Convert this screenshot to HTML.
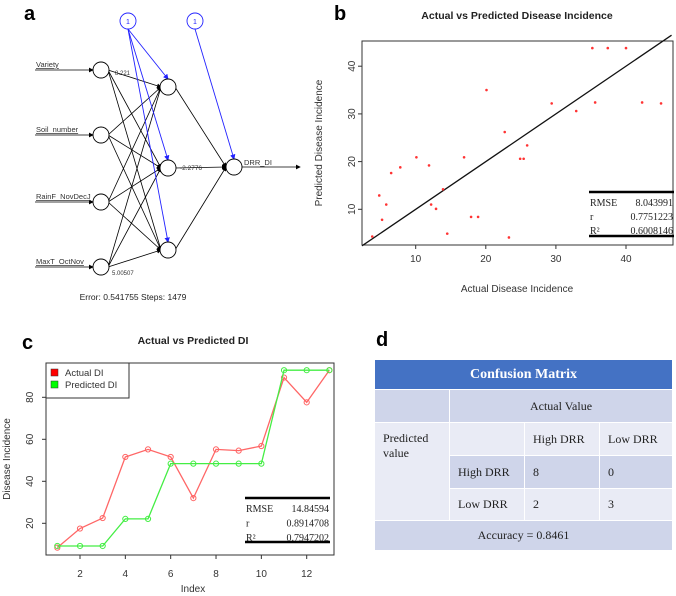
<!DOCTYPE html>
<html><head><meta charset="utf-8"><style>
body{margin:0;background:#fff;width:676px;height:596px;overflow:hidden;font-family:"Liberation Sans",sans-serif}
svg{position:absolute;left:0;top:0}
.cm{position:absolute;left:374px;top:359px;width:299px;border-collapse:collapse;font-family:"Liberation Serif",serif;font-size:12px;color:#222}
.cm td{padding:0 0 0 8px;border:1px solid #fff}
</style></head><body>
<svg width="676" height="596" viewBox="0 0 676 596">
<defs><marker id="ar" markerWidth="6" markerHeight="6" refX="5" refY="3" orient="auto"><path d="M0,0L6,3L0,6z" fill="#000"/></marker>
<marker id="ab" markerWidth="6" markerHeight="6" refX="5" refY="3" orient="auto"><path d="M0,0L6,3L0,6z" fill="#22f"/></marker></defs>
<g id="pa"></g>
<g id="pb"></g>
<g id="pc"></g>
<text x="376" y="346" font-size="20" font-weight="bold">d</text>
</svg>
<table class="cm">
<tr style="height:30px"><td colspan="4" style="background:#4472c4;color:#fff;font-weight:bold;font-size:14px;text-align:center;padding:0">Confusion Matrix</td></tr>
<tr style="background:#cfd5ea;height:33px"><td style="width:66px"></td><td colspan="3" style="text-align:center;padding:0">Actual Value</td></tr>
<tr style="height:33px"><td rowspan="3" style="background:#e9ebf5;vertical-align:top;padding-top:8px;line-height:15px">Predicted<br>value</td><td style="background:#e9ebf5;width:66px"></td><td style="background:#e9ebf5;width:66px">High DRR</td><td style="background:#e9ebf5">Low DRR</td></tr>
<tr style="background:#cfd5ea;height:33px"><td>High DRR</td><td>8</td><td>0</td></tr>
<tr style="background:#e9ebf5;height:32px"><td>Low DRR</td><td>2</td><td>3</td></tr>
<tr style="background:#cfd5ea;height:30px"><td colspan="4" style="text-align:center;padding:0">Accuracy = 0.8461</td></tr>
</table>
<script>
const NS="http://www.w3.org/2000/svg";
function mk(p,t,a,txt){const e=document.createElementNS(NS,t);for(const k in a)e.setAttribute(k,a[k]);if(txt!==undefined)e.textContent=txt;p.appendChild(e);return e;}
// ---------- panel a ----------
const inputNames=["Variety","Soil_number","RainF_NovDecJ","MaxT_OctNov"];
const hiddenW=["-2.2776"];
const pa=document.getElementById('pa');
let t=mk(pa,'text',{x:24,y:20,'font-size':20,'font-weight':'bold'},'a');

const inp=[[101,70],[101,135],[101,202],[101,267]],hid=[[168,87],[168,168],[168,250]],out=[234,167],b1=[128,21],b2=[195,21];
inp.forEach(a=>hid.forEach(h=>{mk(pa,'line',{x1:a[0]+7,y1:a[1],x2:h[0]-7,y2:h[1],stroke:'#000','stroke-width':0.8,'marker-end':'url(#ar)'});}));
hid.forEach(h=>{mk(pa,'line',{x1:h[0]+7,y1:h[1],x2:out[0]-8,y2:out[1],stroke:'#000','stroke-width':0.8,'marker-end':'url(#ar)'});
 mk(pa,'line',{x1:b1[0],y1:b1[1]+8,x2:h[0],y2:h[1]-8,stroke:'#22f','stroke-width':0.9,'marker-end':'url(#ab)'});});
mk(pa,'line',{x1:b2[0],y1:b2[1]+8,x2:out[0],y2:out[1]-8,stroke:'#22f','stroke-width':0.9,'marker-end':'url(#ab)'});
inputNames.forEach((n,i)=>{const a=inp[i];
 mk(pa,'line',{x1:35,y1:a[1],x2:a[0]-8,y2:a[1],stroke:'#000','stroke-width':0.8,'marker-end':'url(#ar)'});
 const tx=mk(pa,'text',{x:36,y:a[1]-3,'font-size':7.5,fill:'#333','text-decoration':'underline'},n);
 });
mk(pa,'line',{x1:242,y1:167,x2:300,y2:167,stroke:'#000','stroke-width':0.8,'marker-end':'url(#ar)'});
mk(pa,'text',{x:244,y:165,'font-size':7.5,fill:'#333'},'DRR_DI');
[...inp,...hid,out].forEach(c=>{const n=mk(pa,'circle',{cx:c[0],cy:c[1],r:8,fill:'#fff',stroke:'#000','stroke-width':0.9});
 });
[b1,b2].forEach(c=>{mk(pa,'circle',{cx:c[0],cy:c[1],r:8,fill:'#fff',stroke:'#22f','stroke-width':0.9});mk(pa,'text',{x:c[0],y:c[1]+3,'font-size':7,fill:'#22f','text-anchor':'middle'},'1');});
mk(pa,'text',{x:180,y:170,'font-size':6.5,fill:'#333'},hiddenW[0]);
mk(pa,'text',{x:115,y:75,'font-size':6,fill:'#333'},'8.221');
mk(pa,'text',{x:112,y:275,'font-size':6,fill:'#333'},'5.00507');
t=mk(pa,'text',{x:133,y:300,'font-size':8.5,fill:'#222','text-anchor':'middle'},'Error: 0.541755   Steps: 1479');


// ---------- panel b ----------
const bActual=[3.8,4.8,5.2,5.8,6.5,7.8,10.1,11.9,12.2,12.9,13.9,14.5,16.9,17.9,18.9,20.1,22.7,23.3,24.9,25.4,25.9,29.4,32.9,35.2,35.6,37.4,40.0,42.3,45.0];
const bPred=[4.3,12.9,7.8,11.0,17.6,18.8,20.9,19.2,11.0,10.1,14.2,4.9,20.9,8.4,8.4,35.0,26.2,4.1,20.6,20.6,23.4,32.2,30.6,43.8,32.4,43.8,43.8,32.4,32.2];
const bTicks=[10,20,30,40];
const bStats=[["RMSE","8.043991"],["r","0.7751223"],["R²","0.6008146"]];
const pb=document.getElementById('pb');
const bx=v=>415.7+(v-10)*7.01, by=v=>209.3-(v-10)*4.77;
mk(pb,'text',{x:334,y:20,'font-size':20,'font-weight':'bold'},'b');
t=mk(pb,'text',{x:517,y:19,'font-size':10.5,'font-weight':'bold','text-anchor':'middle',fill:'#222'},'Actual vs Predicted Disease Incidence');

mk(pb,'rect',{x:362,y:41,width:311,height:204,fill:'none',stroke:'#333','stroke-width':1});
bTicks.forEach(v=>{mk(pb,'line',{x1:bx(v),y1:245,x2:bx(v),y2:249,stroke:'#333'});
 mk(pb,'text',{x:bx(v),y:262,'font-size':10,'text-anchor':'middle',fill:'#333'},v);
 mk(pb,'line',{x1:358,y1:by(v),x2:362,y2:by(v),stroke:'#333'});
 mk(pb,'text',{x:355,y:by(v),'font-size':10,'text-anchor':'middle',fill:'#333',transform:`rotate(-90 355 ${by(v)})`},v);});
mk(pb,'text',{x:517,y:292,'font-size':10,'text-anchor':'middle',fill:'#333'},'Actual Disease Incidence');
mk(pb,'text',{x:322,y:143,'font-size':10,'text-anchor':'middle',fill:'#333',transform:'rotate(-90 322 143)'},'Predicted Disease Incidence');
mk(pb,'line',{x1:bx(2.34),y1:by(2.34),x2:bx(46.5),y2:by(46.5),stroke:'#111','stroke-width':1.3});
bActual.forEach((v,i)=>{const c=mk(pb,'circle',{cx:bx(v),cy:by(bPred[i]),r:1.3,fill:'#f33'});
 });
mk(pb,'line',{x1:589,y1:192,x2:674,y2:192,stroke:'#000','stroke-width':2.5});
mk(pb,'line',{x1:589,y1:236,x2:674,y2:236,stroke:'#000','stroke-width':2.5});
bStats.forEach((s,i)=>{mk(pb,'text',{x:590,y:206+i*14,'font-size':10,'font-family':'Liberation Serif',fill:'#222'},s[0]);
 mk(pb,'text',{x:673,y:206+i*14,'font-size':10,'font-family':'Liberation Serif','text-anchor':'end',fill:'#222'},s[1]);});

// ---------- panel c ----------
const cIndex=[1,2,3,4,5,6,7,8,9,10,11,12,13];
const cActual=[8.4,17.5,22.5,51.6,55.2,51.6,32,55.2,54.6,56.8,89.4,77.6,92.9];
const cPred=[9.2,9.2,9.2,22.1,22.1,48.4,48.4,48.4,48.4,48.4,92.9,92.9,92.9];
const cXTicks=[2,4,6,8,10,12], cYTicks=[20,40,60,80];
const cStats=[["RMSE","14.84594"],["r","0.8914708"],["R²","0.7947202"]];
const pc=document.getElementById('pc');
const cx=v=>80+(v-2)*22.67, cy=v=>523.3-(v-20)*2.1;
mk(pc,'text',{x:22,y:349,'font-size':20,'font-weight':'bold'},'c');
t=mk(pc,'text',{x:193,y:344,'font-size':10.5,'font-weight':'bold','text-anchor':'middle',fill:'#222'},'Actual vs Predicted DI');

mk(pc,'rect',{x:46,y:363,width:288,height:192,fill:'none',stroke:'#333','stroke-width':1});
cXTicks.forEach(v=>{mk(pc,'line',{x1:cx(v),y1:555,x2:cx(v),y2:559,stroke:'#333'});
 mk(pc,'text',{x:cx(v),y:577,'font-size':10,'text-anchor':'middle',fill:'#333'},v);});
cYTicks.forEach(v=>{mk(pc,'line',{x1:42,y1:cy(v),x2:46,y2:cy(v),stroke:'#333'});
 mk(pc,'text',{x:33,y:cy(v),'font-size':10,'text-anchor':'middle',fill:'#333',transform:`rotate(-90 33 ${cy(v)})`},v);});
mk(pc,'text',{x:193,y:592,'font-size':10,'text-anchor':'middle',fill:'#333'},'Index');
mk(pc,'text',{x:10,y:459,'font-size':10,'text-anchor':'middle',fill:'#333',transform:'rotate(-90 10 459)'},'Disease Incidence');
[[cActual,'#f66','actual-di-line'],[cPred,'#4e4','predicted-di-line']].forEach(([d,col,nm])=>{
 const l=mk(pc,'polyline',{points:cIndex.map((x,i)=>cx(x)+','+cy(d[i])).join(' '),fill:'none',stroke:col,'stroke-width':1.3});
 
 cIndex.forEach((x,i)=>{const c=mk(pc,'circle',{cx:cx(x),cy:cy(d[i]),r:2.6,fill:'none',stroke:col,'stroke-width':1});
  });});
mk(pc,'rect',{x:46,y:363,width:83,height:35,fill:'#fff',stroke:'#333','stroke-width':1});
[['Actual DI','#f00'],['Predicted DI','#0f0']].forEach((e,i)=>{const g=mk(pc,'g',{});
 
 mk(g,'rect',{x:51,y:373+i*12-4,width:7,height:7,fill:e[1],stroke:'#333','stroke-width':0.5});
 mk(g,'text',{x:65,y:376+i*12,'font-size':9.5,fill:'#333'},e[0]);});
mk(pc,'line',{x1:245,y1:498,x2:330,y2:498,stroke:'#000','stroke-width':2.5});
mk(pc,'line',{x1:245,y1:542,x2:330,y2:542,stroke:'#000','stroke-width':2.5});
cStats.forEach((s,i)=>{mk(pc,'text',{x:246,y:512+i*14.5,'font-size':10,'font-family':'Liberation Serif',fill:'#222'},s[0]);
 mk(pc,'text',{x:329,y:512+i*14.5,'font-size':10,'font-family':'Liberation Serif','text-anchor':'end',fill:'#222'},s[1]);});
</script>
</body></html>
